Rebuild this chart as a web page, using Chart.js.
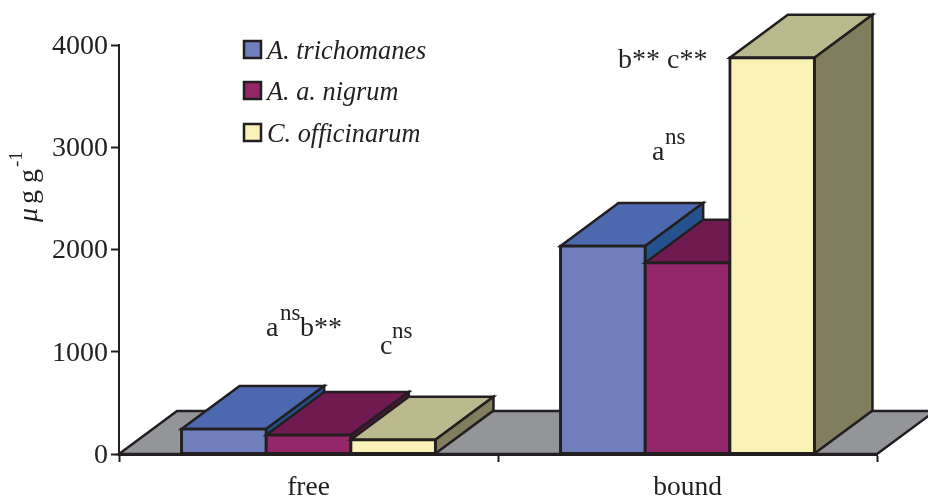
<!DOCTYPE html>
<html>
<head>
<meta charset="utf-8">
<title>free and bound</title>
<script src="https://cdn.jsdelivr.net/npm/chart.js@4"></script>
<style>
    html, body { margin: 0; padding: 0; background: #fff; }
    #wrap { width: 928px; height: 496px; overflow: hidden; }
</style>
</head>
<body>
<div id="wrap"><canvas id="chart" width="928" height="496"></canvas></div>
<script>
// data
const categories = ['free', 'bound'];
const seriesNames = ['A. trichomanes', 'A. a. nigrum', 'C. officinarum'];
const trichomanes = [245, 2035];
const nigrum = [185, 1870];
const officinarum = [140, 3875];
const yTicks = [0, 1000, 2000, 3000, 4000];

const INK = '#231f20';
const SERIF = '"Liberation Serif", serif';
const DEPTH_X = 58;
const DEPTH_Y = 43;

const frontColors = ['#6f7fbd', '#93276a', '#fbf2b7'];
const topColors = ['#4c69b0', '#6f1a50', '#bab88d'];
const sideColors = ['#25518f', '#581340', '#807e5e'];

function poly(ctx, pts, fill) {
    ctx.beginPath();
    pts.forEach((p, i) => i ? ctx.lineTo(p[0], p[1]) : ctx.moveTo(p[0], p[1]));
    ctx.closePath();
    ctx.fillStyle = fill;
    ctx.fill();
    ctx.lineWidth = 2.5;
    ctx.strokeStyle = INK;
    ctx.lineJoin = 'miter';
    ctx.stroke();
}

function text(ctx, str, x, y, size, style) {
    ctx.font = (style ? style + ' ' : '') + size + 'px ' + SERIF;
    ctx.fillStyle = INK;
    ctx.textAlign = 'left';
    ctx.textBaseline = 'alphabetic';
    ctx.fillText(str, x, y);
}

// 3d look: floor, then top and side of each bar, painted left to right
const box3d = {
    id: 'box3d',
    beforeDatasetsDraw(chart) {
        const ctx = chart.ctx;
        const a = chart.chartArea;
        ctx.save();
        poly(ctx, [
            [a.left, a.bottom],
            [a.left + DEPTH_X, a.bottom - DEPTH_Y],
            [a.right + DEPTH_X, a.bottom - DEPTH_Y],
            [a.right, a.bottom]
        ], '#939598');

        chart.data.datasets.forEach((ds, d) => {
            chart.getDatasetMeta(d).data.forEach(bar => {
                const p = bar.getProps(['x', 'y', 'base', 'width']);
                const l = p.x - p.width / 2;
                const r = p.x + p.width / 2;
                poly(ctx, [
                    [l, p.y],
                    [l + DEPTH_X, p.y - DEPTH_Y],
                    [r + DEPTH_X, p.y - DEPTH_Y],
                    [r, p.y]
                ], topColors[d]);
                poly(ctx, [
                    [r, p.y],
                    [r + DEPTH_X, p.y - DEPTH_Y],
                    [r + DEPTH_X, p.base - DEPTH_Y],
                    [r, p.base]
                ], sideColors[d]);
                bar.draw(ctx);
            });
        });
        ctx.restore();
    },
    // fronts are already painted above, in the right order
    beforeDatasetDraw() {
        return false;
    },
    afterDraw(chart) {
        const ctx = chart.ctx;
        ctx.save();

        // legend
        seriesNames.forEach((name, i) => {
            const y = [41, 82, 124][i];
            ctx.fillStyle = frontColors[i];
            ctx.fillRect(244, y, 17, 17);
            ctx.lineWidth = 2.5;
            ctx.strokeStyle = INK;
            ctx.strokeRect(244, y, 17, 17);
            text(ctx, name, 267, y + 18, 26.3, 'italic');
        });

        // significance notes
        text(ctx, 'a', 266, 336, 28);
        text(ctx, 'ns', 280, 320, 23);
        text(ctx, 'b**', 300, 336, 28);
        text(ctx, 'c', 380, 354, 28);
        text(ctx, 'ns', 392, 338, 23);
        text(ctx, 'a', 652, 160, 28);
        text(ctx, 'ns', 665, 144, 23);
        text(ctx, 'b** c**', 618, 68, 28);

        // y axis title
        ctx.translate(37, 222);
        ctx.rotate(-Math.PI / 2);
        text(ctx, 'μ', 0, 0, 28, 'italic');
        text(ctx, 'g g', 18, 0, 28);
        text(ctx, '-1', 55, -15, 19);
        ctx.restore();
    }
};

new Chart(document.getElementById('chart'), {
    type: 'bar',
    data: {
        labels: categories,
        datasets: [
            { label: seriesNames[0], data: trichomanes, backgroundColor: frontColors[0] },
            { label: seriesNames[1], data: nigrum, backgroundColor: frontColors[1] },
            { label: seriesNames[2], data: officinarum, backgroundColor: frontColors[2] }
        ]
    },
    options: {
        responsive: false,
        animation: false,
        layout: { padding: { top: 45, right: 51, left: 0, bottom: 0 } },
        datasets: {
            bar: {
                categoryPercentage: 0.67,
                barPercentage: 1,
                borderColor: INK,
                borderWidth: 3,
                inflateAmount: 1.5,
                borderSkipped: false
            }
        },
        plugins: {
            legend: { display: false },
            tooltip: { enabled: false }
        },
        scales: {
            x: {
                afterFit(scale) { scale.height = 42; },
                grid: { drawOnChartArea: false, tickLength: 8, tickColor: INK, tickWidth: 2 },
                border: { color: INK, width: 3 },
                ticks: { color: INK, font: { family: SERIF, size: 27.5 }, padding: 9, maxRotation: 0 }
            },
            y: {
                min: 0,
                max: 4000,
                afterFit(scale) { scale.width = 119; },
                afterBuildTicks(scale) { scale.ticks = yTicks.map(v => ({ value: v })); },
                grid: { drawOnChartArea: false, tickLength: 8, tickColor: INK, tickWidth: 2 },
                border: { color: INK, width: 2 },
                ticks: {
                    color: INK,
                    font: { family: SERIF, size: 28 },
                    padding: 3,
                    labelOffset: 1.5,
                    callback: v => String(v)
                }
            }
        }
    },
    plugins: [box3d]
});
</script>
</body>
</html>
